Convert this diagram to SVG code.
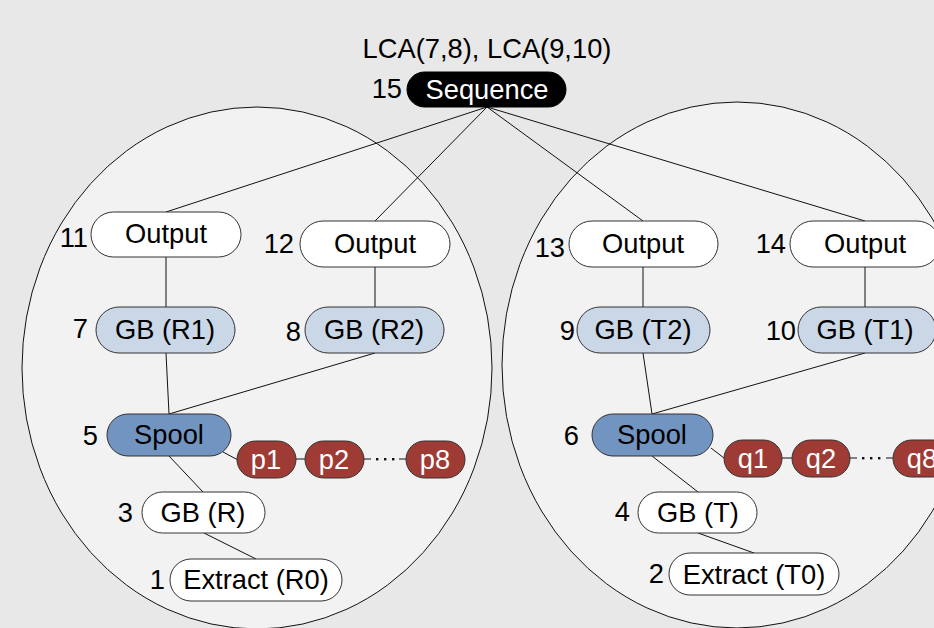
<svg xmlns="http://www.w3.org/2000/svg" width="934" height="628" viewBox="0 0 934 628">
  <style>
    text { font-family: "Liberation Sans", Arial, sans-serif; font-size: 27.3px; fill: #000; }
    .lbl { text-anchor: middle; }
    .num { text-anchor: end; }
    .inv { fill: #fff; }
    .pill { stroke: #333; stroke-width: 1; }
    .white { fill: #fff; }
    .gb { fill: #c9d7e6; }
    .spool { fill: #7194c1; }
    .part { fill: #9e3b35; }
    .seq { fill: #000; stroke: #000; }
    .edge { stroke: #111; stroke-width: 1; fill: none; }
    .region { fill: #f2f2f2; stroke: #111; stroke-width: 1; }
  </style>

  <rect x="0" y="0" width="934" height="628" fill="#e8e8e8"/>

  <!-- group regions -->
  <g id="regions">
    <ellipse class="region" cx="257" cy="368" rx="235" ry="261"/>
    <ellipse class="region" cx="737" cy="365" rx="235" ry="263"/>
  </g>

  <!-- connectors -->
  <g id="connectors">
    <line class="edge" x1="487" y1="107" x2="166" y2="212"/>
    <line class="edge" x1="487" y1="107" x2="375" y2="221"/>
    <line class="edge" x1="487" y1="107" x2="643" y2="221"/>
    <line class="edge" x1="487" y1="107" x2="865" y2="221"/>
    <line class="edge" x1="166" y1="257" x2="166" y2="307"/>
    <line class="edge" x1="375" y1="266" x2="375" y2="307"/>
    <line class="edge" x1="166" y1="353" x2="169" y2="414"/>
    <line class="edge" x1="375" y1="353" x2="169" y2="414"/>
    <line class="edge" x1="223" y1="452" x2="238" y2="460"/>
    <line class="edge" x1="296" y1="459" x2="305" y2="459"/>
    <line class="edge" x1="364" y1="459" x2="371" y2="459"/>
    <line class="edge" x1="399" y1="459" x2="406" y2="459"/>
    <line class="edge" x1="169" y1="456" x2="203" y2="492"/>
    <line class="edge" x1="204" y1="533" x2="256" y2="559"/>

    <line class="edge" x1="643" y1="267" x2="643" y2="307"/>
    <line class="edge" x1="865" y1="267" x2="865" y2="307"/>
    <line class="edge" x1="643" y1="353" x2="652" y2="414"/>
    <line class="edge" x1="865" y1="353" x2="652" y2="414"/>
    <line class="edge" x1="711" y1="448" x2="724" y2="458"/>
    <line class="edge" x1="782" y1="458" x2="792" y2="458"/>
    <line class="edge" x1="850" y1="458" x2="857" y2="458"/>
    <line class="edge" x1="886" y1="458" x2="893" y2="458"/>
    <line class="edge" x1="652" y1="456" x2="698" y2="492"/>
    <line class="edge" x1="698" y1="533" x2="754" y2="553"/>

    <g fill="#111">
      <rect x="376" y="458" width="2.4" height="2.4"/>
      <rect x="384" y="458" width="2.4" height="2.4"/>
      <rect x="392" y="458" width="2.4" height="2.4"/>
      <rect x="862" y="457" width="2.4" height="2.4"/>
      <rect x="870" y="457" width="2.4" height="2.4"/>
      <rect x="878" y="457" width="2.4" height="2.4"/>
    </g>
  </g>

  <!-- root -->
  <text x="487" y="58" class="lbl">LCA(7,8), LCA(9,10)</text>
  <g id="n15">
    <rect class="pill seq" x="407" y="72" width="159" height="35" rx="17.5"/>
    <text x="487" y="99" class="lbl inv">Sequence</text>
    <text x="402" y="98" class="num">15</text>
  </g>

  <!-- left subtree -->
  <g id="n11">
    <rect class="pill white" x="91" y="212" width="150" height="45" rx="22.5"/>
    <text x="166" y="243" class="lbl">Output</text>
    <text x="88" y="247" class="num">11</text>
  </g>
  <g id="n12">
    <rect class="pill white" x="300" y="221" width="150" height="46" rx="23"/>
    <text x="375" y="253" class="lbl">Output</text>
    <text x="294" y="253" class="num">12</text>
  </g>
  <g id="n7">
    <rect class="pill gb" x="96" y="307" width="139" height="46" rx="23"/>
    <text x="165" y="339" class="lbl">GB (R1)</text>
    <text x="88" y="338" class="num">7</text>
  </g>
  <g id="n8">
    <rect class="pill gb" x="305" y="307" width="139" height="46" rx="23"/>
    <text x="374" y="339" class="lbl">GB (R2)</text>
    <text x="301" y="341" class="num">8</text>
  </g>
  <g id="n5">
    <rect class="pill spool" x="107" y="414" width="124" height="42" rx="21"/>
    <text x="169" y="444" class="lbl">Spool</text>
    <text x="98" y="445" class="num">5</text>
  </g>
  <g id="p1">
    <rect class="pill part" x="237" y="441" width="59" height="37" rx="18.5"/>
    <text x="266" y="469" class="lbl inv">p1</text>
  </g>
  <g id="p2">
    <rect class="pill part" x="305" y="441" width="59" height="37" rx="18.5"/>
    <text x="334" y="469" class="lbl inv">p2</text>
  </g>
  <g id="p8">
    <rect class="pill part" x="406" y="441" width="59" height="37" rx="18.5"/>
    <text x="435" y="469" class="lbl inv">p8</text>
  </g>
  <g id="n3">
    <rect class="pill white" x="142" y="492" width="123" height="41" rx="20.5"/>
    <text x="203" y="522" class="lbl">GB (R)</text>
    <text x="133" y="522" class="num">3</text>
  </g>
  <g id="n1">
    <rect class="pill white" x="170" y="559" width="172" height="42" rx="21"/>
    <text x="256" y="589" class="lbl">Extract (R0)</text>
    <text x="165" y="589" class="num">1</text>
  </g>

  <!-- right subtree -->
  <g id="n13">
    <rect class="pill white" x="569" y="221" width="149" height="46" rx="23"/>
    <text x="643" y="253" class="lbl">Output</text>
    <text x="565" y="257" class="num">13</text>
  </g>
  <g id="n14">
    <rect class="pill white" x="790" y="221" width="150" height="46" rx="23"/>
    <text x="865" y="253" class="lbl">Output</text>
    <text x="786" y="253" class="num">14</text>
  </g>
  <g id="n9">
    <rect class="pill gb" x="577" y="307" width="133" height="46" rx="23"/>
    <text x="643" y="339" class="lbl">GB (T2)</text>
    <text x="575" y="340" class="num">9</text>
  </g>
  <g id="n10">
    <rect class="pill gb" x="798" y="307" width="138" height="46" rx="23"/>
    <text x="865" y="339" class="lbl">GB (T1)</text>
    <text x="796" y="340" class="num">10</text>
  </g>
  <g id="n6">
    <rect class="pill spool" x="592" y="414" width="121" height="42" rx="21"/>
    <text x="652" y="444" class="lbl">Spool</text>
    <text x="579" y="445" class="num">6</text>
  </g>
  <g id="q1">
    <rect class="pill part" x="724" y="440" width="58" height="37" rx="18.5"/>
    <text x="753" y="468" class="lbl inv">q1</text>
  </g>
  <g id="q2">
    <rect class="pill part" x="792" y="440" width="58" height="37" rx="18.5"/>
    <text x="821" y="468" class="lbl inv">q2</text>
  </g>
  <g id="q8">
    <rect class="pill part" x="893" y="440" width="59" height="37" rx="18.5"/>
    <text x="922" y="468" class="lbl inv">q8</text>
  </g>
  <g id="n4">
    <rect class="pill white" x="638" y="492" width="119" height="41" rx="20.5"/>
    <text x="698" y="522" class="lbl">GB (T)</text>
    <text x="630" y="521" class="num">4</text>
  </g>
  <g id="n2">
    <rect class="pill white" x="669" y="553" width="170" height="42" rx="21"/>
    <text x="754" y="584" class="lbl">Extract (T0)</text>
    <text x="664" y="583" class="num">2</text>
  </g>
</svg>
